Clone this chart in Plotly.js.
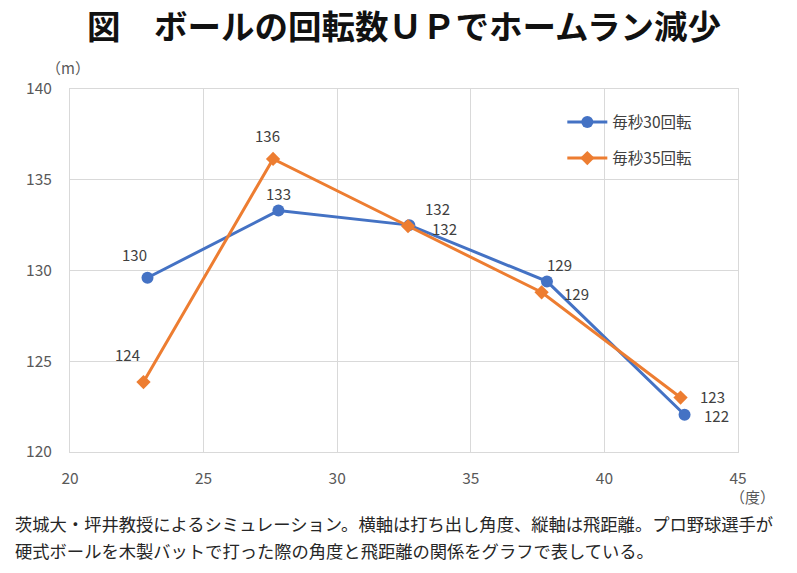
<!DOCTYPE html>
<html>
<head>
<meta charset="utf-8">
<script src="https://cdn.plot.ly/plotly-3.0.1.min.js"></script>
<style>html,body{margin:0;padding:0;background:#fff;}#chart{width:797px;height:573px;}</style>
</head>
<body>
<div id="chart"></div>
<script>
const seriesNames = ["毎秒30回転", "毎秒35回転"];
const angle30 = [22.9, 27.8, 32.7, 37.85, 43.0];
const dist30 = [129.6, 133.3, 132.5, 129.4, 122.05];
const labels30 = ["130", "133", "132", "129", "122"];
const angle35 = [22.75, 27.6, 32.65, 37.65, 42.85];
const dist35 = [123.85, 136.15, 132.45, 128.8, 123.0];
const labels35 = ["124", "136", "132", "129", "123"];
const xTicks = [20, 25, 30, 35, 40, 45];
const yTicks = [120, 125, 130, 135, 140];
const titleText = "図　ボールの回転数ＵＰでホームラン減少";
const yUnit = "（m）";
const xUnit = "（度）";
const noteLines = ["茨城大・坪井教授によるシミュレーション。横軸は打ち出し角度、縦軸は飛距離。プロ野球選手が",
                   "硬式ボールを木製バットで打った際の角度と飛距離の関係をグラフで表している。"];

const FONT = "'Noto Sans CJK JP', 'Noto Sans', sans-serif";
const blue = "#4472C4", orange = "#ED7D31";
const off30 = [[-13, 23], [0, 17], [28, 17], [13, 17], [32, -1]];
const off35 = [[-16, 28], [-6, 23], [36, -2], [35, -1], [32, 1]];

const traces = [
  {x: angle30, y: dist30, name: seriesNames[0], legendgroup: "g1", mode: "lines+markers", type: "scatter",
   line: {color: blue, width: 3}, marker: {symbol: "circle", size: 12, color: blue}},
  {x: angle35, y: dist35, name: seriesNames[1], legendgroup: "g2", mode: "lines+markers", type: "scatter",
   line: {color: orange, width: 3}, marker: {symbol: "diamond", size: 11, color: orange}}
];

const annotations = [];
function addLabels(xs, ys, ls, offs) {
  xs.forEach((x, i) => annotations.push({x: x, y: ys[i], xref: "x", yref: "y", text: ls[i], showarrow: false,
    xshift: offs[i][0], yshift: offs[i][1], font: {family: FONT, size: 15, color: "#404040"}}));
}
addLabels(angle30, dist30, labels30, off30);
addLabels(angle35, dist35, labels35, off35);
annotations.push({xref: "paper", yref: "paper", x: -0.003, y: 1.06, text: yUnit, showarrow: false,
  xanchor: "center", yanchor: "middle", font: {family: FONT, size: 15, color: "#595959"}});
annotations.push({xref: "paper", yref: "paper", x: 1.021, y: -0.122, text: xUnit, showarrow: false,
  xanchor: "center", yanchor: "middle", font: {family: FONT, size: 15, color: "#595959"}});
noteLines.forEach((t, i) => annotations.push({xref: "paper", yref: "paper", x: -0.086, y: -0.196 - i * 0.0744,
  text: t, showarrow: false, xanchor: "left", yanchor: "middle", font: {family: FONT, size: 17.3, color: "#262626"}}));

const layout = {
  width: 797, height: 573,
  margin: {l: 70, r: 59, t: 89, b: 121},
  paper_bgcolor: "#fff", plot_bgcolor: "#fff",
  title: {text: "<b>" + titleText + "</b>", x: 0.5, xref: "paper", xanchor: "center", y: 0.952, yanchor: "middle",
          font: {family: FONT, size: 33.5, color: "#111"}},
  xaxis: {range: [20, 45], tickvals: xTicks, ticktext: xTicks.map(String), showgrid: true, gridcolor: "#d9d9d9", gridwidth: 1,
          zeroline: false, showline: true, linecolor: "#d9d9d9", linewidth: 1, mirror: true, ticks: "", ticklabelstandoff: 12,
          tickfont: {family: FONT, size: 15.5, color: "#595959"}, fixedrange: true},
  yaxis: {range: [120, 140], tickvals: yTicks, ticktext: yTicks.map(String), showgrid: true, gridcolor: "#d9d9d9", gridwidth: 1,
          zeroline: false, showline: true, linecolor: "#d9d9d9", linewidth: 1, mirror: true, ticks: "", ticklabelstandoff: 14,
          tickfont: {family: FONT, size: 15.5, color: "#595959"}, fixedrange: true},
  showlegend: true,
  legend: {x: 0.737, y: 0.955, xanchor: "left", yanchor: "top", bgcolor: "rgba(255,255,255,0)", borderwidth: 0,
           font: {family: FONT, size: 15.5, color: "#404040"}, tracegroupgap: 13, itemwidth: 40},
  annotations: annotations
};
Plotly.newPlot("chart", traces, layout, {displayModeBar: false, staticPlot: true});
</script>
</body>
</html>
